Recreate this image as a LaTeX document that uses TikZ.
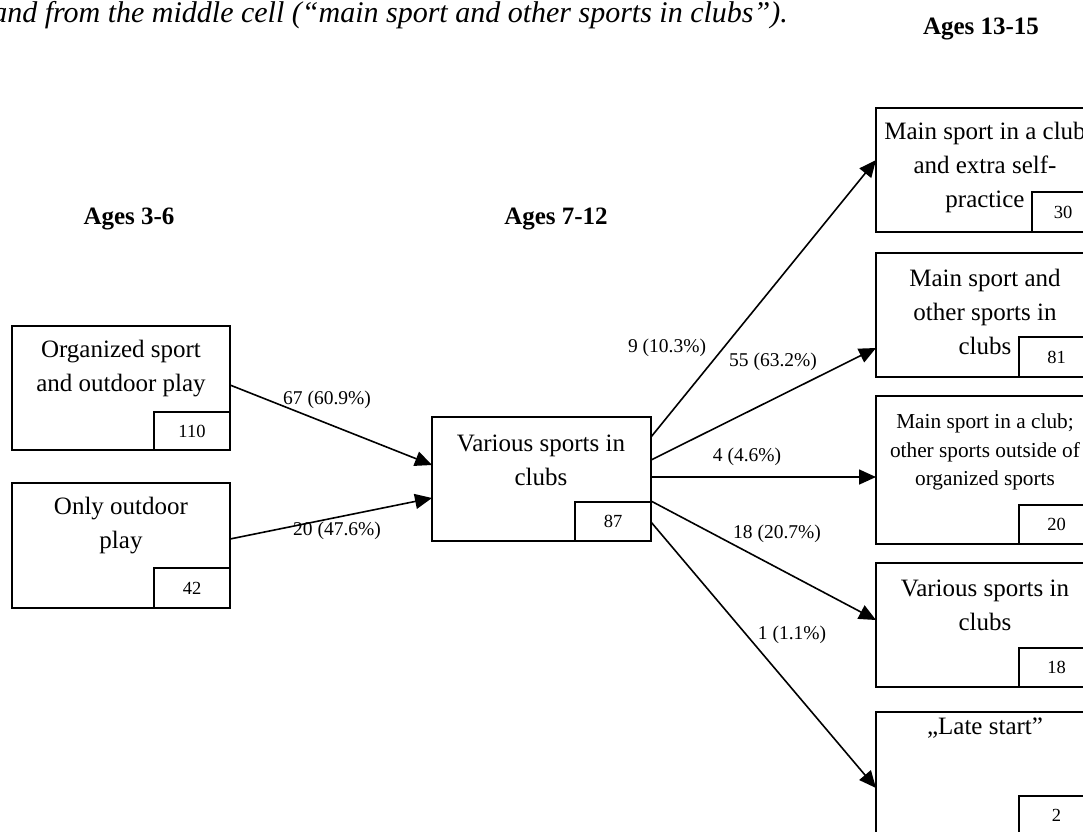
\documentclass[tikz,border=0pt]{standalone}
\usepackage{fontspec}
\setmainfont{Liberation Serif}
\usetikzlibrary{arrows.meta,calc}

\tikzset{
  stage/.style={draw, line width=1.8pt, rectangle, anchor=north west,
    minimum width=218pt, minimum height=124pt, inner sep=0pt, outer sep=0pt},
  countbox/.style={draw, line width=1.6pt, rectangle, anchor=north west,
    inner sep=0pt, outer sep=0pt, font=\fontsize{18.5}{20}\selectfont},
  boxtext/.style={align=center, inner sep=0pt, font=\fontsize{25}{34}\selectfont},
  smalltext/.style={align=center, inner sep=0pt, font=\fontsize{21.3}{28.5}\selectfont},
  flowlabel/.style={inner sep=0pt, font=\fontsize{19.5}{21}\selectfont},
  agehead/.style={inner sep=0pt, anchor=base, font=\bfseries\fontsize{25}{27}\selectfont},
  captiontext/.style={inner sep=0pt, anchor=base east, font=\itshape\fontsize{30}{32}\selectfont},
  flow/.style={line width=1.6pt, -{Triangle[length=17pt, width=15pt]}}
}

\begin{document}
\begin{tikzpicture}[x=1pt, y=-1pt]
  \useasboundingbox (0,0) rectangle (1083,831);
  \clip (0,0) rectangle (1083,831);

  % caption fragment and stage headings
  \node[captiontext] (cap) at (788,22) {and from the middle cell (“main sport and other sports in clubs”).};
  \node[agehead] (h1) at (129,224) {Ages 3-6};
  \node[agehead] (h2) at (556,224) {Ages 7-12};
  \node[agehead] (h3) at (981,34) {Ages 13-15};

  % ages 3-6
  \node[stage] (b1) at (12,326) {};
  \node[countbox, minimum width=76pt, minimum height=38pt] (c1) at (154,412) {110};
  \node[boxtext] (t1) at (121,369) {Organized sport\\and outdoor play};

  \node[stage, minimum height=125pt] (b2) at (12,483) {};
  \node[countbox, minimum width=76pt, minimum height=40pt] (c2) at (154,568) {42};
  \node[boxtext] (t2) at (121,526) {Only outdoor\\play};

  % ages 7-12
  \node[stage, minimum width=219pt] (m) at (432,417) {};
  \node[countbox, minimum width=76pt, minimum height=39pt] (cm) at (575,502) {87};
  \node[boxtext] (tm) at (541,460) {Various sports in\\clubs};

  % ages 13-15
  \node[stage] (ra) at (876,108) {};
  \node[countbox, minimum width=62pt, minimum height=40pt] (ca) at (1032,192) {30};
  \node[boxtext] (ta) at (985,167) {Main sport in a club\\and extra self-\\practice};

  \node[stage] (rb) at (876,253) {};
  \node[countbox, minimum width=75pt, minimum height=40pt] (cb) at (1019,337) {81};
  \node[boxtext] (tb) at (985,312) {Main sport and\\other sports in\\clubs};

  \node[stage, minimum height=148pt] (rc) at (876,396) {};
  \node[countbox, minimum width=75pt, minimum height=39pt] (cc) at (1019,505) {20};
  \node[smalltext] (tc) at (985,452) {Main sport in a club;\\other sports outside of\\organized sports};

  \node[stage] (rd) at (876,563) {};
  \node[countbox, minimum width=75pt, minimum height=39pt] (cd) at (1019,648) {18};
  \node[boxtext] (td) at (985,605) {Various sports in\\clubs};

  \node[stage] (re) at (876,712) {};
  \node[countbox, minimum width=75pt, minimum height=39pt] (ce) at (1019,796) {2};
  \node[boxtext] (te) at (985,728) {„Late start”};

  % transitions from ages 3-6
  \draw[flow] ([yshift=3pt]b1.east) -- ([yshift=14pt]m.west);
  \draw[flow] ([yshift=6.5pt]b2.east) -- ([yshift=-19pt]m.west);
  \node[flowlabel] (l1) at (327,400) {67 (60.9\%)};
  \node[flowlabel] (l2) at (337,531) {20 (47.6\%)};

  % transitions from ages 7-12
  \draw[flow] ([yshift=42pt]m.east) -- ([yshift=10pt]ra.west);
  \draw[flow] ([yshift=19pt]m.east) -- ([yshift=-33pt]rb.west);
  \draw[flow] ([yshift=2pt]m.east) -- ([yshift=-7pt]rc.west);
  \draw[flow] ([yshift=-22pt]m.east) -- ([yshift=5pt]rd.west);
  \draw[flow] ([yshift=-43pt]m.east) -- ([yshift=-14pt]re.west);
  \node[flowlabel] (l3) at (667,348) {9 (10.3\%)};
  \node[flowlabel] (l4) at (773,362) {55 (63.2\%)};
  \node[flowlabel] (l5) at (747,457) {4 (4.6\%)};
  \node[flowlabel] (l6) at (777,534) {18 (20.7\%)};
  \node[flowlabel] (l7) at (792,635) {1 (1.1\%)};
\end{tikzpicture}
\end{document}
